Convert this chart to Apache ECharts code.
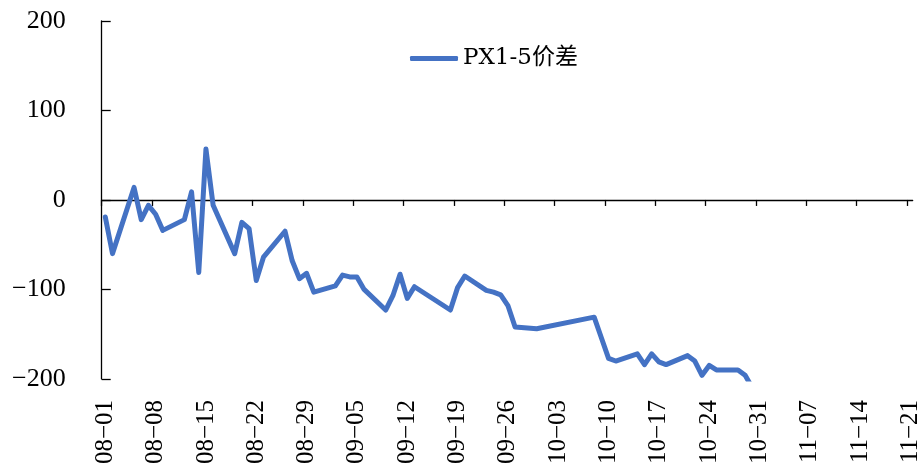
<!DOCTYPE html>
<html>
<head>
<meta charset="utf-8">
<script src="https://cdn.jsdelivr.net/npm/echarts@6/dist/echarts.min.js"></script>
<style>
  html, body { margin: 0; padding: 0; background: #fff; }
  #chart { width: 923px; height: 467px; }
</style>
</head>
<body>
<div id="chart"></div>
<script>
// trading dates (2024) and PX 1-5 spread
var dates = [
  '2024-08-01','2024-08-02','2024-08-05','2024-08-06','2024-08-07','2024-08-08','2024-08-09',
  '2024-08-12','2024-08-13','2024-08-14','2024-08-15','2024-08-16',
  '2024-08-19','2024-08-20','2024-08-21','2024-08-22','2024-08-23',
  '2024-08-26','2024-08-27','2024-08-28','2024-08-29','2024-08-30',
  '2024-09-02','2024-09-03','2024-09-04','2024-09-05','2024-09-06',
  '2024-09-09','2024-09-10','2024-09-11','2024-09-12','2024-09-13',
  '2024-09-18','2024-09-19','2024-09-20',
  '2024-09-23','2024-09-24','2024-09-25','2024-09-26','2024-09-27',
  '2024-09-30',
  '2024-10-08','2024-10-09','2024-10-10','2024-10-11',
  '2024-10-14','2024-10-15','2024-10-16','2024-10-17','2024-10-18',
  '2024-10-21','2024-10-22','2024-10-23','2024-10-24','2024-10-25',
  '2024-10-28','2024-10-29','2024-10-30'
];
var spread = [
  -19, -60, 14, -22, -6, -16, -34,
  -22, 9, -81, 57, -6,
  -60, -25, -32, -90, -64,
  -35, -68, -88, -82, -103,
  -96, -84, -86, -86, -100,
  -123, -107, -83, -110, -97,
  -123, -98, -85,
  -101, -103, -106, -118, -142,
  -144,
  -131, -154, -177, -180,
  -172, -184, -172, -181, -184,
  -174, -180, -196, -185, -190,
  -190, -196, -210
];
var tickDates = [
  '08-01','08-08','08-15','08-22','08-29','09-05','09-12','09-19','09-26',
  '10-03','10-10','10-17','10-24','10-31','11-07','11-14','11-21'
];
var yTicks = [-200, -100, 0, 100, 200];

var DAY = 86400000;
var start = Date.UTC(2024, 7, 1);
function dayOf(s) {
  var p = s.split('-');
  return (Date.UTC(+p[0], +p[1] - 1, +p[2]) - start) / DAY;
}

// each date sits in the middle of its day slot
var points = [];
for (var i = 0; i < dates.length; i++) {
  points.push([dayOf(dates[i]) + 0.5, spread[i]]);
}
var tickVals = tickDates.map(function (d) { return dayOf('2024-' + d); });
var labelVals = tickVals.map(function (v) { return v + 0.5; });

var font = "'Liberation Serif', 'Noto Sans CJK SC', serif";

var myChart = echarts.init(document.getElementById('chart'));
var option = {
  animation: false,
  legend: {
    data: ['PX1-5价差'],
    left: 405,
    top: 42,
    icon: 'roundRect',
    itemWidth: 48,
    itemHeight: 5,
    itemGap: 6,
    itemStyle: { color: '#4472C4' },
    textStyle: { fontFamily: "'DejaVu Serif', 'Noto Sans CJK SC', serif", fontSize: 23, color: '#000' }
  },
  grid: { left: 101.7, right: 8, top: 21, bottom: 87.5, containLabel: false },
  xAxis: [{
    type: 'value',
    min: 0,
    max: 112.8,
    position: 'bottom',
    axisLine: { show: false, onZero: false },
    axisTick: { show: false },
    splitLine: { show: false },
    axisLabel: {
      customValues: labelVals,
      rotate: 90,
      margin: 21,
      fontFamily: font,
      fontSize: 25,
      color: '#000',
      formatter: function (v) {
        var i = labelVals.indexOf(v);
        return i >= 0 ? tickDates[i].replace('-', '\u2212') : '';
      }
    }
  }, {
    type: 'value',
    min: 0,
    max: 112.8,
    position: 'top',
    axisLine: { show: true, onZero: true, lineStyle: { color: '#000', width: 1.3 } },
    axisTick: { show: true, inside: true, length: 6, customValues: tickVals, lineStyle: { color: '#000', width: 1.3 } },
    axisLabel: { show: false },
    splitLine: { show: false }
  }],
  yAxis: {
    type: 'value',
    min: -200,
    max: 200,
    interval: 100,
    axisLine: { show: true, onZero: false, lineStyle: { color: '#000', width: 1.3 } },
    axisTick: { show: true, inside: true, length: 9, lineStyle: { color: '#000', width: 1.3 } },
    splitLine: { show: false },
    axisLabel: {
      margin: 36,
      fontFamily: font,
      fontSize: 26,
      color: '#000',
      formatter: function (v) { return String(v).replace('-', '\u2212'); }
    }
  },
  series: [{
    name: 'PX1-5价差',
    type: 'line',
    xAxisIndex: 0,
    data: points,
    symbol: 'none',
    clip: true,
    lineStyle: { color: '#4472C4', width: 5, join: 'round', cap: 'round' },
    itemStyle: { color: '#4472C4' }
  }]
};
myChart.setOption(option);
</script>
</body>
</html>
